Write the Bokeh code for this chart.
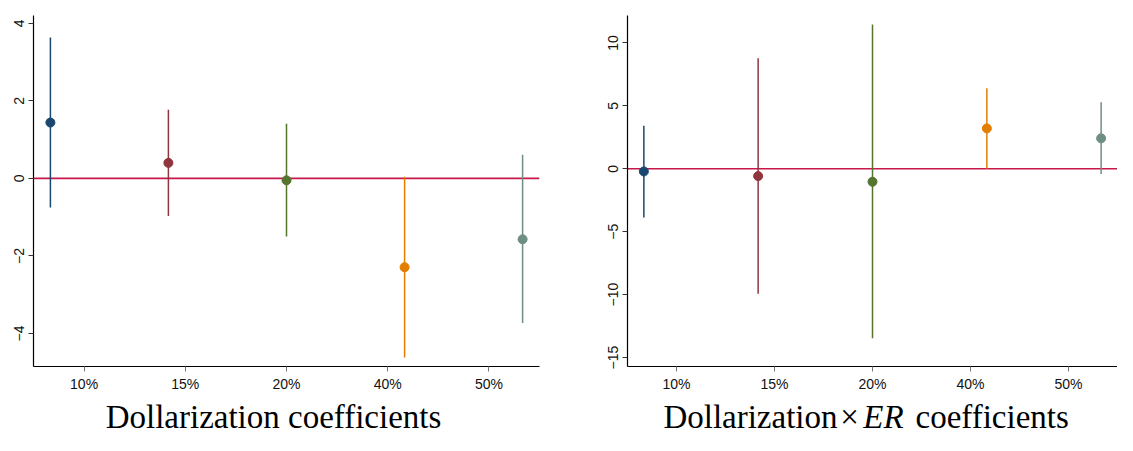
from bokeh.plotting import figure
from bokeh.models import FixedTicker, Span, ColumnDataSource
from bokeh.layouts import row, column
from bokeh.core.properties import value
from bokeh.embed import file_html
from bokeh.resources import INLINE

# ---- data ----
categories = ["10%", "15%", "20%", "40%", "50%"]
tick_pos = [1, 2, 3, 4, 5]
x_pos = [0.667, 1.833, 3.0, 4.167, 5.333]
colors = ["#1a476f", "#90353b", "#55752f", "#e37e00", "#6e8e84"]

dollar_coef = [1.44, 0.40, -0.05, -2.29, -1.57]
dollar_lo = [-0.75, -0.97, -1.50, -4.62, -3.73]
dollar_hi = [3.63, 1.77, 1.41, 0.04, 0.61]

er_coef = [-0.21, -0.58, -1.03, 3.21, 2.42]
er_lo = [-3.87, -9.92, -13.47, 0.0, -0.42]
er_hi = [3.42, 8.79, 11.47, 6.39, 5.29]

left_ticks = [-4, -2, 0, 2, 4]
right_ticks = [-15, -10, -5, 0, 5, 10]

title_left = "Dollarization coefficients"
title_right = ["Dollarization", "\u00d7", "ER", "coefficients"]

PH = 394   # plot figure height
TH = 41    # title strip height
W1 = 582
W2 = 535
SERIF = "Liberation Serif"
TFS = "33px"


def make_panel(width, bl, br, coef, lo, hi, yr, yticks):
    p = figure(width=width, height=PH, x_range=(0.5, 5.5), y_range=yr,
               output_backend="svg", toolbar_location=None,
               min_border_left=bl, min_border_right=br,
               min_border_top=15, min_border_bottom=26)
    p.outline_line_color = None
    p.xgrid.visible = False
    p.ygrid.visible = False
    p.background_fill_color = "white"
    p.border_fill_color = "white"

    p.add_layout(Span(location=0, dimension="width", line_color="#c8174a",
                      line_width=1.6, level="underlay"))

    src = ColumnDataSource(dict(x=x_pos, coef=coef, lo=lo, hi=hi, color=colors))
    p.segment(x0="x", y0="lo", x1="x", y1="hi", line_color="color",
              line_width=1.5, source=src)
    p.scatter("x", "coef", size=9, fill_color="color", line_color="color",
              source=src)

    p.xaxis.ticker = FixedTicker(ticks=tick_pos)
    p.xaxis.major_label_overrides = {t: c for t, c in zip(tick_pos, categories)}
    p.yaxis.ticker = FixedTicker(ticks=yticks)
    p.yaxis.major_label_orientation = "vertical"
    for ax in (p.xaxis, p.yaxis):
        ax.axis_line_color = "black"
        ax.axis_line_width = 1.2
        ax.major_tick_line_color = "#333333"
        ax.major_tick_line_width = 1
        ax.major_tick_in = 0
        ax.major_tick_out = 5
        ax.minor_tick_line_color = None
        ax.major_label_text_font = "Liberation Sans"
        ax.major_label_text_font_size = "14px"
        ax.major_label_text_color = "#111111"
        ax.major_label_standoff = 4
    p.xaxis.major_tick_line_color = "#777777"
    return p


def title_strip(width):
    t = figure(frame_width=width, frame_height=TH, x_range=(0, width), y_range=(0, TH),
               output_backend="svg", toolbar_location=None,
               min_border_left=0, min_border_right=0,
               min_border_top=0, min_border_bottom=0)
    t.axis.visible = False
    t.xgrid.visible = False
    t.ygrid.visible = False
    t.outline_line_color = None
    t.background_fill_color = "white"
    t.border_fill_color = "white"
    return t


p1 = make_panel(W1, 33, 43, dollar_coef, dollar_lo, dollar_hi, (-4.85, 4.2), left_ticks)
p2 = make_panel(W2, 45, 0, er_coef, er_lo, er_hi, (-15.71, 12.18), right_ticks)

MID = 19
t1 = title_strip(W1)
t1.text(x=[273], y=[MID], text=[title_left], text_font=value(SERIF),
        text_font_size=TFS, text_align="center", text_baseline="middle",
        text_color="black")

t2 = title_strip(W2)
off = W1
t2.text(x=[837 - off], y=[MID], text=[title_right[0]], text_font=value(SERIF),
        text_font_size=TFS, text_align="right", text_baseline="middle",
        text_color="black")
t2.text(x=[849 - off], y=[MID], text=[title_right[1]], text_font=value(SERIF),
        text_font_size=TFS, text_align="center", text_baseline="middle",
        text_color="black")
t2.text(x=[883 - off], y=[MID], text=[title_right[2]], text_font=value(SERIF),
        text_font_style="italic", text_font_size=TFS, text_align="center",
        text_baseline="middle", text_color="black")
t2.text(x=[915 - off], y=[MID], text=[title_right[3]], text_font=value(SERIF),
        text_font_size=TFS, text_align="left", text_baseline="middle",
        text_color="black")

layout = column(row(p1, p2), row(t1, t2))
open("out.html", "w").write(file_html(layout, INLINE))
